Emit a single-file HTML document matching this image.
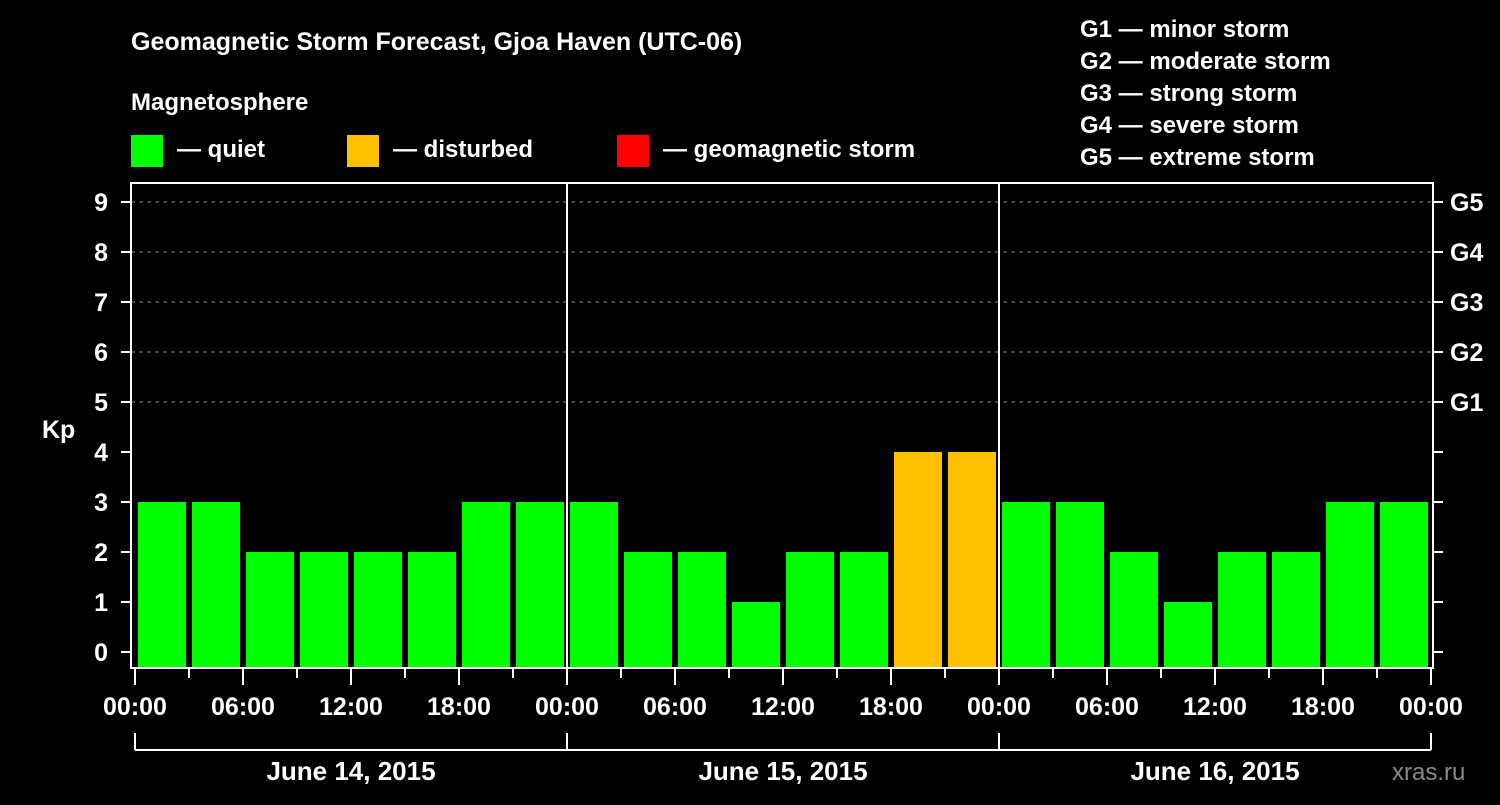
<!DOCTYPE html>
<html><head><meta charset="utf-8"><style>
body{margin:0;background:#000;width:1500px;height:800px;overflow:hidden}
svg text{font-family:"Liberation Sans",Arial,sans-serif;font-weight:bold;fill:#fff}
</style></head><body>
<svg id="chart" width="1500" height="800" xmlns="http://www.w3.org/2000/svg">
<rect width="1500" height="800" fill="#000"/>
<text x="131" y="50" font-size="25">Geomagnetic Storm Forecast, Gjoa Haven (UTC-06)</text>
<text x="131" y="110" font-size="24">Magnetosphere</text>
<g><rect x="131" y="135" width="32" height="32" fill="#00ff00"/><text x="177" y="157" font-size="24">— quiet</text></g>
<g><rect x="347" y="135" width="32" height="32" fill="#ffc000"/><text x="393" y="157" font-size="24">— disturbed</text></g>
<g><rect x="617" y="135" width="32" height="32" fill="#ff0000"/><text x="663" y="157" font-size="24">— geomagnetic storm</text></g>
<g font-size="24">
<text x="1080" y="37">G1 — minor storm</text>
<text x="1080" y="69">G2 — moderate storm</text>
<text x="1080" y="101">G3 — strong storm</text>
<text x="1080" y="133">G4 — severe storm</text>
<text x="1080" y="165">G5 — extreme storm</text>
</g>
<text x="42" y="438" font-size="25">Kp</text>
<text x="1392" y="780" font-size="24" style="fill:#888;font-weight:normal">xras.ru</text>
<g id="grid"></g><g id="bars"></g><g id="axes"></g>
</svg>
<script>
const kpValues=[3,3,2,2,2,2,3,3, 3,2,2,1,2,2,4,4, 3,3,2,1,2,2,3,3];
const dayLabels=["June 14, 2015","June 15, 2015","June 16, 2015"];
const hourLabels=["00:00","06:00","12:00","18:00"];
const gLabels=["G1","G2","G3","G4","G5"];
const NS="http://www.w3.org/2000/svg";
const X0=135,DAYW=432,SLOT=54,Y0=652,UNIT=50,TOP=183,BOT=668,LEFT=131,RIGHT=1433;
const xs=i=>X0+i*SLOT, ys=v=>Y0-v*UNIT;
function mk(tag,attrs,parent,text){const e=document.createElementNS(NS,tag);for(const k in attrs)e.setAttribute(k,attrs[k]);if(text!==undefined)e.textContent=text;document.getElementById(parent).appendChild(e);return e;}
for(let v=5;v<=9;v++){const l=mk('line',{x1:LEFT,x2:RIGHT,y1:ys(v),y2:ys(v),stroke:'#888','stroke-dasharray':'4,4','stroke-width':1},'grid');

}
kpValues.forEach((v,i)=>{const c=v>=5?'#ff0000':v>=4?'#ffc000':'#00ff00';
const r=mk('rect',{x:xs(i)+3,y:ys(v),width:48,height:BOT-ys(v),fill:c},'bars');

});
mk('rect',{x:LEFT,y:TOP,width:RIGHT-LEFT,height:BOT-TOP,fill:'none',stroke:'#fff','stroke-width':2},'axes');
for(let d=1;d<3;d++)mk('line',{x1:X0+d*DAYW,x2:X0+d*DAYW,y1:TOP,y2:BOT,stroke:'#fff','stroke-width':2},'axes');
for(let v=0;v<=9;v++){mk('line',{x1:121,x2:LEFT,y1:ys(v),y2:ys(v),stroke:'#fff','stroke-width':2},'axes');
mk('line',{x1:RIGHT,x2:1443,y1:ys(v),y2:ys(v),stroke:'#fff','stroke-width':2},'axes');
const t=mk('text',{x:108,y:ys(v)+9,'font-size':25,'text-anchor':'end'},'axes',String(v));

}
gLabels.forEach((g,i)=>{const t=mk('text',{x:1450,y:ys(5+i)+9,'font-size':25},'axes',g);

});
for(let i=0;i<=24;i++){const major=i%2==0;mk('line',{x1:xs(i),x2:xs(i),y1:BOT,y2:major?685:678,stroke:'#fff','stroke-width':2},'axes');
if(major){const t=mk('text',{x:xs(i),y:715,'font-size':25,'text-anchor':'middle'},'axes',hourLabels[(i/2)%4]);

}}
mk('line',{x1:X0,x2:X0+3*DAYW,y1:750,y2:750,stroke:'#fff','stroke-width':2},'axes');
for(let d=0;d<=3;d++)mk('line',{x1:X0+d*DAYW,x2:X0+d*DAYW,y1:733,y2:750,stroke:'#fff','stroke-width':2},'axes');
dayLabels.forEach((s,d)=>{const t=mk('text',{x:X0+d*DAYW+DAYW/2,y:780,'font-size':26,'text-anchor':'middle'},'axes',s);

});
</script>
</body></html>
